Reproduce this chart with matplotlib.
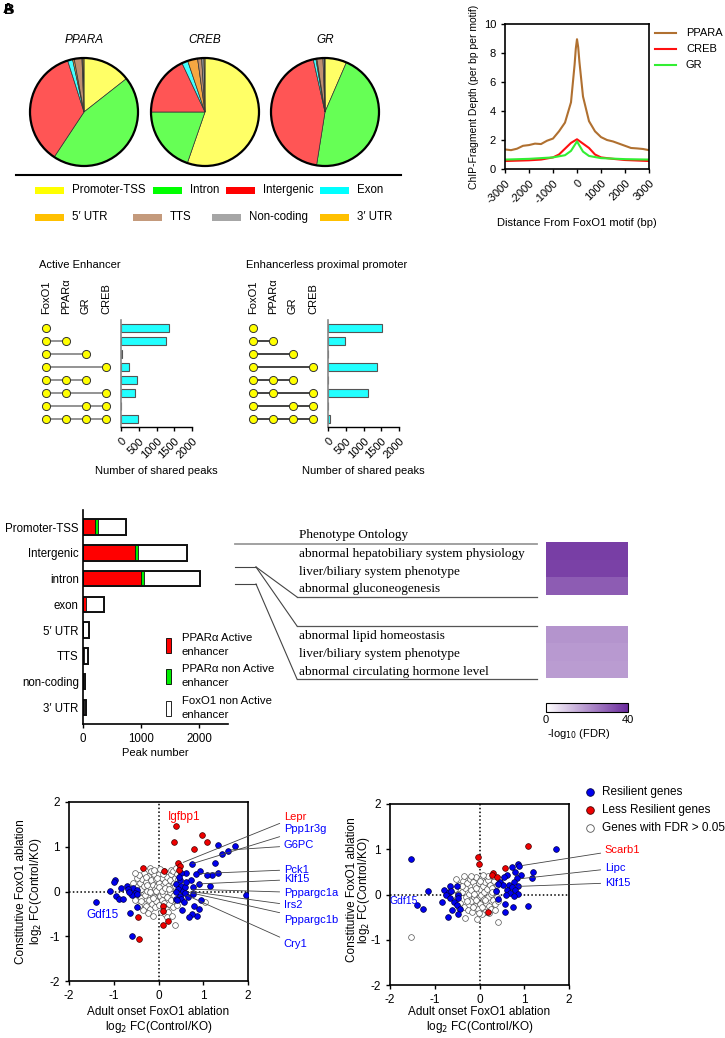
import numpy as np
import matplotlib
matplotlib.use('Agg')
import matplotlib.pyplot as plt
from matplotlib.patches import Rectangle, Circle
from matplotlib.colors import LinearSegmentedColormap

plt.rcParams['font.family'] = ['Liberation Sans', 'DejaVu Sans']
plt.rcParams['font.size'] = 8
plt.rcParams['axes.linewidth'] = 1.2
plt.rcParams['axes.unicode_minus'] = False

# ---------------- data ----------------
pie_names = ['PPARA', 'CREB', 'GR']
pie_cats = ['Promoter-TSS', 'Intron', 'Intergenic', 'Exon', "5′ UTR", 'TTS', 'Non-coding', "3′ UTR"]
ppara_pie = [14.4, 44.9, 35.8, 1.5, 0.5, 2.3, 0.3, 0.3]
creb_pie = [55.3, 19.7, 18.0, 1.8, 3.0, 1.2, 0.7, 0.3]
gr_pie = [6.5, 46.0, 44.0, 0.8, 0.3, 1.8, 0.4, 0.2]

dist_ppara = [-3000, -2750, -2500, -2250, -2000, -1750, -1500, -1250, -1000, -750, -500, -250, -100, -50, 0,
              50, 100, 250, 500, 750, 1000, 1250, 1500, 1750, 2000, 2250, 2500, 2750, 3000]
depth_ppara = [1.35, 1.3, 1.4, 1.6, 1.65, 1.75, 1.72, 1.95, 2.1, 2.6, 3.2, 4.6, 7.2, 8.3, 8.95,
               8.4, 7.4, 5.0, 3.3, 2.6, 2.2, 2.0, 1.9, 1.75, 1.6, 1.45, 1.42, 1.38, 1.3]
dist_creb = [-3000, -2000, -1500, -1000, -750, -500, -250, 0, 250, 500, 750, 1000, 1500, 2000, 3000]
depth_creb = [0.55, 0.6, 0.65, 0.8, 1.0, 1.4, 1.8, 2.05, 1.75, 1.45, 1.0, 0.8, 0.7, 0.62, 0.55]
dist_gr = [-3000, -2000, -1000, -500, -250, 0, 250, 500, 1000, 2000, 3000]
depth_gr = [0.65, 0.7, 0.8, 0.95, 1.25, 1.9, 1.2, 0.9, 0.75, 0.68, 0.65]

upset_sets = ['FoxO1', 'PPARα', 'GR', 'CREB']
upset_combos = [[0], [0, 1], [0, 2], [0, 3], [0, 1, 2], [0, 1, 3], [0, 2, 3], [0, 1, 2, 3]]
active_counts = [1360, 1260, 30, 215, 445, 390, 0, 465]
promoter_counts = [1525, 465, 0, 1385, 10, 1115, 0, 45]

region_cats = ['Promoter-TSS', 'Intergenic', 'intron', 'exon', "5′ UTR", 'TTS', 'non-coding', "3′ UTR"]
ppara_active = [200, 900, 1000, 50, 0, 15, 5, 15]
ppara_nonactive = [60, 40, 55, 0, 0, 0, 0, 0]
foxo1_nonactive = [480, 845, 962, 316, 110, 72, 25, 37]

onto_terms_1 = ['abnormal hepatobiliary system physiology', 'liver/biliary system phenotype',
                'abnormal gluconeogenesis']
onto_terms_2 = ['abnormal lipid homeostasis', 'liver/biliary system phenotype',
                'abnormal circulating hormone level']
onto_fdr_1 = [36, 35.5, 30.5]
onto_fdr_2 = [20, 19, 18.5]

# scatter (adult onset, constitutive)
left_blue = [(1.71, 1.01), (1.55, 0.90), (1.43, 0.83), (1.32, 1.05), (1.26, 0.64), (1.34, 0.41), (1.20, 0.36),
             (1.09, 0.36), (0.92, 0.45), (0.83, 0.39), (0.74, 0.62), (0.62, 0.42), (0.51, 0.41), (0.72, 0.26),
             (0.90, 0.17), (0.76, 0.11), (1.15, 0.12), (1.95, -0.07), (0.48, 0.25), (0.40, 0.17), (0.51, 0.13),
             (0.44, 0.06), (0.55, 0.02), (0.39, -0.01), (0.48, -0.09), (0.59, -0.04), (0.66, -0.13),
             (0.51, -0.16), (0.40, -0.16), (0.57, -0.24), (0.77, -0.05), (0.95, -0.19), (0.80, -0.33),
             (0.90, -0.39), (0.85, -0.54), (0.74, -0.51), (0.69, -0.57), (0.52, -0.42), (0.42, -0.20),
             (-0.97, 0.26), (-1.00, 0.22), (-1.08, 0.01), (-0.96, -0.11), (-0.83, 0.07), (-0.70, 0.13),
             (-0.57, 0.07), (-0.48, 0.04), (-0.53, -0.04), (-0.60, -0.08), (-0.47, -0.06), (-0.88, -0.16),
             (-0.80, -0.16), (-0.68, 0.06), (-0.65, 0.0), (-0.48, -0.35), (-0.64, -0.48), (-1.40, -0.24),
             (-0.60, -0.99), (0.60, 0.10), (0.46, 0.32), (0.62, 0.22)]
left_red = [(0.39, 1.47), (0.35, 1.10), (0.97, 1.27), (1.09, 1.10), (0.80, 0.95), (0.43, 0.63), (0.48, 0.56),
            (0.45, 0.48), (-0.35, 0.53), (0.13, 0.45), (0.10, -0.33), (0.10, -0.44), (0.22, -0.65),
            (0.09, -0.75), (-0.45, -0.57), (-0.43, -1.06)]
left_white = [(-0.55, 0.02), (-0.50, 0.10), (-0.46, -0.05), (-0.42, 0.18), (-0.40, -0.15), (-0.38, 0.05),
              (-0.36, 0.28), (-0.34, -0.25), (-0.32, 0.12), (-0.30, -0.08), (-0.28, 0.22), (-0.27, -0.32),
              (-0.25, 0.02), (-0.24, 0.35), (-0.22, -0.18), (-0.20, 0.10), (-0.19, -0.40), (-0.18, 0.53),
              (-0.17, 0.25), (-0.15, -0.05), (-0.14, -0.28), (-0.12, 0.15), (-0.11, 0.40), (-0.10, -0.12),
              (-0.08, 0.05), (-0.07, -0.35), (-0.06, 0.28), (-0.05, -0.22), (-0.04, 0.12), (-0.02, -0.02),
              (0.00, 0.20), (0.01, -0.30), (0.02, 0.38), (0.03, -0.10), (0.05, 0.08), (0.06, -0.45),
              (0.07, 0.30), (0.08, -0.18), (0.10, 0.15), (0.11, -0.05), (0.12, 0.45), (0.13, -0.25),
              (0.15, 0.22), (0.16, -0.38), (0.17, 0.02), (0.19, 0.33), (0.20, -0.12), (0.22, 0.12),
              (0.23, -0.28), (0.25, 0.25), (0.26, -0.02), (0.28, 0.40), (0.29, -0.20), (0.31, 0.08),
              (0.32, -0.35), (0.34, 0.18), (0.35, -0.08), (0.37, 0.30), (0.38, -0.22), (0.40, 0.05),
              (0.42, -0.30), (0.44, 0.28), (-0.58, 0.18), (-0.52, -0.20), (-0.48, 0.30), (-0.44, -0.32),
              (-0.33, 0.42), (-0.29, 0.32), (-0.23, -0.48), (-0.16, 0.45), (-0.09, 0.48), (-0.03, 0.30),
              (0.04, 0.50), (0.09, 0.40), (0.14, -0.50), (0.21, -0.45), (0.27, 0.48), (0.33, 0.45),
              (0.39, 0.52), (0.41, 0.38), (-0.43, 0.36), (-0.62, -0.05), (-0.35, -0.42), (-0.13, -0.55),
              (0.18, -0.58), (0.37, -0.74), (1.04, -0.24), (-0.52, 0.42), (0.30, -0.55), (-0.05, 0.02),
              (0.02, 0.10), (-0.12, -0.15), (0.08, 0.02), (0.14, 0.08), (-0.18, -0.02), (0.24, 0.05),
              (-0.26, 0.15), (0.36, 0.12), (-0.38, -0.22), (0.45, -0.12)]

right_blue = [(1.71, 1.01), (-1.52, 0.78), (0.85, 0.68), (0.88, 0.62), (0.73, 0.60), (0.80, 0.49), (1.19, 0.49),
              (0.92, 0.44), (1.17, 0.36), (0.61, 0.42), (0.54, 0.38), (0.83, 0.37), (0.46, 0.27), (0.52, 0.22),
              (0.42, 0.24), (0.76, 0.27), (0.65, 0.20), (0.72, 0.16), (0.87, 0.18), (0.37, 0.07), (0.61, 0.10),
              (0.80, 0.09), (0.68, 0.03), (0.87, 0.01), (0.76, -0.04), (0.59, -0.02), (0.42, -0.10),
              (0.57, -0.22), (0.74, -0.27), (1.08, -0.26), (0.57, -0.39), (-1.14, 0.07), (-1.40, -0.23),
              (-1.27, -0.33), (-0.79, 0.10), (-0.67, 0.18), (-0.51, 0.18), (-0.69, 0.05), (-0.74, -0.02),
              (-0.64, 0.07), (-0.66, -0.07), (-0.47, -0.01), (-0.49, -0.08), (-0.83, -0.17), (-0.58, -0.17),
              (-0.51, -0.24), (-0.43, -0.32), (-0.48, -0.43), (-0.62, -0.35), (-0.71, -0.50)]
right_red = [(1.09, 1.08), (-0.03, 0.83), (-0.01, 0.68), (0.56, 0.58), (0.31, 0.48), (0.27, 0.42),
             (0.39, 0.38), (0.19, -0.39)]
right_white = [(-0.60, 0.00), (-0.55, 0.12), (-0.50, -0.08), (-0.46, 0.22), (-0.43, -0.18), (-0.40, 0.05),
               (-0.37, 0.30), (-0.35, -0.28), (-0.32, 0.15), (-0.30, -0.05), (-0.28, 0.25), (-0.26, -0.35),
               (-0.24, 0.02), (-0.22, 0.35), (-0.20, -0.15), (-0.18, 0.10), (-0.16, -0.38), (-0.15, 0.28),
               (-0.13, -0.05), (-0.11, -0.25), (-0.10, 0.18), (-0.08, 0.38), (-0.07, -0.12), (-0.05, 0.05),
               (-0.04, -0.32), (-0.02, 0.25), (0.00, -0.20), (0.01, 0.12), (0.03, -0.02), (0.04, 0.35),
               (0.06, -0.28), (0.07, 0.18), (0.09, -0.10), (0.10, 0.05), (0.12, -0.38), (0.13, 0.28),
               (0.15, -0.18), (0.16, 0.12), (0.18, -0.05), (0.20, 0.32), (0.21, -0.25), (0.23, 0.20),
               (0.25, 0.02), (0.26, -0.32), (0.28, 0.15), (0.30, -0.12), (0.32, 0.30), (0.34, -0.22),
               (0.36, 0.08), (0.38, -0.05), (0.40, 0.22), (0.42, -0.15), (0.44, 0.35), (-0.53, 0.35),
               (-0.32, -0.53), (-0.06, -0.55), (0.41, -0.61), (-1.52, -0.94), (-0.45, -0.30), (-0.20, 0.40),
               (0.05, -0.42), (0.30, 0.40), (-0.12, 0.02), (0.18, 0.40), (-0.35, 0.40), (0.00, 0.30),
               (0.22, -0.40), (-0.27, -0.15), (0.08, 0.42), (-0.02, -0.40), (0.35, -0.35), (-0.48, 0.02),
               (0.12, -0.12), (-0.08, 0.15), (0.27, 0.05), (-0.15, -0.28), (-0.38, 0.18)]

left_labels = [('Lepr', 'red', 1.66, (0.55, 0.65)), ('Ppp1r3g', 'blue', 1.40, (0.75, 0.62)),
               ('G6PC', 'blue', 1.03, (1.62, 0.93)), ('Pck1', 'blue', 0.49, (0.92, 0.40)),
               ('Klf15', 'blue', 0.27, (0.90, 0.17)), ('Pppargc1a', 'blue', -0.03, (0.75, 0.05)),
               ('Irs2', 'blue', -0.31, (0.72, 0.00)), ('Pppargc1b', 'blue', -0.63, (0.68, -0.02)),
               ('Cry1', 'blue', -1.18, (0.62, -0.08))]
right_labels = [('Scarb1', 'red', 0.99, (0.95, 0.64)), ('Lipc', 'blue', 0.58, (0.92, 0.35)),
                ('Klf15', 'blue', 0.26, (0.88, 0.18))]

# ---------------- figure ----------------
W, H = 725, 1038
fig = plt.figure(figsize=(W / 100, H / 100), dpi=100)


def px_axes(x0, y0, x1, y1):
    a = fig.add_axes([x0 / W, 1 - y1 / H, (x1 - x0) / W, (y1 - y0) / H])
    a.patch.set_visible(False)
    return a


ov = fig.add_axes([0, 0, 1, 1])
ov.set_xlim(0, W)
ov.set_ylim(H, 0)
ov.axis('off')
ov.set_zorder(10)

# panel letters (overlapping in the original)
ov.text(3, 2, 'A', fontsize=10.5, fontweight='bold', va='top')
ov.text(4, 3, 'B', fontsize=10.5, fontweight='bold', va='top')

# ---- A: pies ----
pie_fill = ['#FFFF66', '#66FF55', '#FF5555', '#44FFFF', '#F5A742', '#C09070', '#999999', '#FFC000']
for name, vals, cx in zip(pie_names, [ppara_pie, creb_pie, gr_pie], [84, 205, 325]):
    ax = px_axes(cx - 56, 112 - 56, cx + 56, 112 + 56)
    ax.pie(vals, colors=pie_fill, startangle=90, counterclock=False,
           wedgeprops=dict(edgecolor='#333333', linewidth=0.5))
    ax.add_patch(Circle((0, 0), 1, fill=False, lw=1.6, ec='black'))
    ax.set_xlim(-56 / 54, 56 / 54)
    ax.set_ylim(-56 / 54, 56 / 54)
    ov.text(cx, 40, name, ha='center', va='center', style='italic', fontsize=8.5)

ov.plot([16, 401], [175, 175], color='black', lw=1.5)
leg_cols = ['#FFFF00', '#00FF00', '#FF0000', '#00FFFF', '#FFC000', '#C49A7C', '#A6A6A6', '#FFC000']
leg_pos = [(35, 190), (153, 190), (226, 190), (320, 190), (35, 217), (133, 217), (212, 217), (320, 217)]
for lab, col, (lx, ly) in zip(pie_cats, leg_cols, leg_pos):
    ov.add_patch(Rectangle((lx, ly - 3.5), 29, 7, color=col, lw=0))
    ov.text(lx + 37, ly, lab, va='center', ha='left', fontsize=8.3)

# ---- B: profile ----
ax = px_axes(505, 24, 649, 169)
ax.plot(dist_ppara, depth_ppara, color='#B07030', lw=1.5)
ax.plot(dist_creb, depth_creb, color='#FF1010', lw=1.5)
ax.plot(dist_gr, depth_gr, color='#33EE33', lw=1.5)
ax.set_xlim(-3000, 3000)
ax.set_ylim(0, 10)
ax.set_xticks(range(-3000, 3001, 1000))
ax.set_yticks(range(0, 11, 2))
ax.tick_params(axis='x', labelrotation=45, length=3, width=1, labelsize=8)
ax.tick_params(axis='y', length=3, width=1, labelsize=8)
for t in ax.get_xticklabels():
    t.set_ha('right')
    t.set_rotation_mode('anchor')
ax.set_ylabel('ChIP-Fragment Depth (per bp per motif)', fontsize=7.5, labelpad=3)
ov.text(577, 223, 'Distance From FoxO1 motif (bp)', ha='center', va='center', fontsize=8)
for lab, col, ly in [('PPARA', '#B07030', 33), ('CREB', '#FF1010', 49), ('GR', '#33EE33', 65)]:
    ov.plot([655, 676], [ly, ly], color=col, lw=1.5)
    ov.text(686, ly, lab, va='center', fontsize=8)

# ---- C: upset plots ----
for title, tx, cols_x, bar_x, counts, lcol in [
        ('Active Enhancer', 39, 46, (121, 192), active_counts, '#808080'),
        ('Enhancerless proximal promoter', 246, 253, (328, 399), promoter_counts, '#222222')]:
    ov.text(tx, 265, title, ha='left', va='center', fontsize=8)
    for i, s in enumerate(upset_sets):
        ov.text(cols_x + 20 * i, 314, s, rotation=90, ha='center', va='bottom', fontsize=8)
    dax = px_axes(cols_x - 10, 320, cols_x + 70, 427)
    dax.set_xlim(-0.5, 3.5)
    dax.set_ylim(7.615, -0.615)
    dax.axis('off')
    for r, combo in enumerate(upset_combos):
        dax.plot(combo, [r] * len(combo), '-', color=lcol, lw=1.2, zorder=1)
        dax.scatter(combo, [r] * len(combo), s=34, c='#FFFF00', edgecolors='#333333', linewidths=0.7, zorder=3)
    bax = px_axes(bar_x[0], 320, bar_x[1], 427)
    bax.barh(range(len(counts)), counts, height=0.55, color='#22FFFF', edgecolor='#555555', lw=0.8)
    bax.set_ylim(7.615, -0.615)
    bax.set_xlim(0, 2000)
    bax.set_xticks([0, 500, 1000, 1500, 2000])
    bax.set_yticks([])
    for sp in ['top', 'right']:
        bax.spines[sp].set_visible(False)
    bax.spines['left'].set_color('#888888')
    bax.spines['bottom'].set_linewidth(1.0)
    bax.tick_params(axis='x', length=3, width=1, labelsize=8)
    for t in bax.get_xticklabels():
        t.set_rotation(45)
        t.set_ha('right')
        t.set_rotation_mode('anchor')
    bax.set_xlabel('Number of shared peaks', fontsize=8, labelpad=4)

# ---- D: stacked bars ----
ax = px_axes(83, 510, 228, 724)
ypos = np.arange(len(region_cats))
left2 = np.array(ppara_active) + np.array(ppara_nonactive)
totals = left2 + np.array(foxo1_nonactive)
ax.barh(ypos, ppara_active, height=0.6, color='#FF0000', edgecolor='black', lw=0.5)
ax.barh(ypos, ppara_nonactive, left=ppara_active, height=0.6, color='#00EE00', edgecolor='black', lw=0.5)
ax.barh(ypos, foxo1_nonactive, left=left2, height=0.6, color='white', edgecolor='black', lw=0.5)
ax.barh(ypos, totals, height=0.6, fill=False, edgecolor='#111111', lw=1.4)
ax.set_ylim(7.64, -0.66)
ax.set_xlim(0, 2500)
ax.set_xticks([0, 1000, 2000])
ax.set_yticks(ypos)
ax.set_yticklabels(region_cats, fontsize=8.3)
ax.tick_params(axis='y', length=0, pad=3)
ax.tick_params(axis='x', length=3, width=1, labelsize=8.3)
for sp in ['top', 'right']:
    ax.spines[sp].set_visible(False)
ax.set_xlabel('Peak number', fontsize=8, labelpad=2)

for col, txt, ly in [('#FF0000', 'PPARα Active\nenhancer', 645),
                     ('#00EE00', 'PPARα non Active\nenhancer', 676),
                     ('white', 'FoxO1 non Active\nenhancer', 708)]:
    ov.add_patch(Rectangle((166, ly - 7.5), 5, 15, facecolor=col, edgecolor='black', lw=0.6))
    ov.text(182, ly, txt, va='center', ha='left', fontsize=8.2, linespacing=1.4)

# ---- ontology heatmap ----
serif = ['Liberation Serif', 'DejaVu Serif']
lc = '#444444'
ov.plot([235, 537], [544, 544], color='#9A9A9A', lw=1.3)
for yy in [597, 626, 679]:
    ov.plot([297, 537], [yy, yy], color='#555555', lw=0.9)
ov.plot([235, 256], [567, 567], color=lc, lw=0.8)
ov.plot([256, 297], [567, 597], color=lc, lw=0.8)
ov.plot([256, 297], [567, 626], color=lc, lw=0.8)
ov.plot([235, 256], [584, 584], color=lc, lw=0.8)
ov.plot([256, 297], [584, 679], color=lc, lw=0.8)
ov.text(299, 535, 'Phenotype Ontology', family=serif, fontsize=9.5, va='center')
for term, yy in zip(onto_terms_1, [554, 572, 589]):
    ov.text(299, yy, term, family=serif, fontsize=9.5, va='center')
for term, yy in zip(onto_terms_2, [636, 654, 672]):
    ov.text(299, yy, term, family=serif, fontsize=9.5, va='center')

cmap = LinearSegmentedColormap.from_list('pur', ['#FFFFFF', '#6A2A9C'])
hax1 = px_axes(546, 542, 628, 595)
im = hax1.imshow(np.array(onto_fdr_1).reshape(-1, 1), cmap=cmap, vmin=0, vmax=40, aspect='auto')
hax1.axis('off')
hax2 = px_axes(546, 626, 628, 678)
hax2.imshow(np.array(onto_fdr_2).reshape(-1, 1), cmap=cmap, vmin=0, vmax=40, aspect='auto')
hax2.axis('off')
cax = px_axes(546, 703, 628, 712)
cb = fig.colorbar(im, cax=cax, orientation='horizontal', ticks=[0, 40])
cb.outline.set_linewidth(0.8)
cax.tick_params(length=0, labelsize=8, pad=2)
ov.text(547, 734, '-log$_{10}$ (FDR)', fontsize=8, va='center')


# ---- E: scatter plots ----
def scatter_panel(box, blue, red, white, labels, gdf_pos, xpad):
    ax = px_axes(*box)
    for pts, fc, ec in [(white, 'white', '#555555'), (blue, '#0000EE', '#000044'), (red, '#EE0000', '#440000')]:
        xs, ys = zip(*pts)
        ax.scatter(xs, ys, s=17, facecolor=fc, edgecolor=ec, linewidths=0.5, zorder=3)
    ax.axhline(0, color='black', lw=1.1, ls=(0, (1, 1.5)), zorder=1)
    ax.axvline(0, color='black', lw=1.1, ls=(0, (1, 1.5)), zorder=1)
    ax.set_xlim(-2, 2)
    ax.set_ylim(-2, 2)
    ax.set_xticks([-2, -1, 0, 1, 2])
    ax.set_yticks([-2, -1, 0, 1, 2])
    ax.tick_params(length=3, width=1, labelsize=8.5)
    ax.set_xlabel('Adult onset FoxO1 ablation\nlog$_2$ FC(Control/KO)', fontsize=8.5, linespacing=1.05,
                  labelpad=xpad)
    for name, col, ty, xy in labels:
        ax.annotate(name, xy=xy, xytext=(2.80, ty), color=col, fontsize=8, ha='left', va='center',
                    annotation_clip=False,
                    arrowprops=dict(arrowstyle='-', color='#444444', lw=0.6, shrinkA=1, shrinkB=0))
    ax.text(gdf_pos[0], gdf_pos[1], 'Gdf15', color='blue', fontsize=gdf_pos[2], ha='left', va='center')
    return ax


ax = scatter_panel((69, 802, 248, 981), left_blue, left_red, left_white, left_labels, (-1.62, -0.53, 8.5), 3)
ax.set_ylabel('Constitutive FoxO1 ablation\nlog$_2$ FC(Control/KO)', fontsize=8.5, linespacing=1.05)
ax.text(0.57, 1.66, 'Igfbp1', color='red', fontsize=8.5, ha='center', va='center')

ax = scatter_panel((390, 804, 569, 985), right_blue, right_red, right_white, right_labels, (-2.0, -0.14, 7.5), 0)
ov.text(352, 890, 'Constitutive FoxO1 ablation', rotation=90, ha='center', va='center', fontsize=8.5)
ov.text(364, 890, 'log$_2$ FC(Control/KO)', rotation=90, ha='center', va='center', fontsize=8.5)

for fc, ec, txt, ly in [('#0000EE', '#000044', 'Resilient genes', 792),
                        ('#EE0000', '#440000', 'Less Resilient genes', 810),
                        ('white', '#555555', 'Genes with FDR > 0.05', 828)]:
    ov.scatter([590], [ly], s=30, facecolor=fc, edgecolor=ec, linewidths=0.6)
    ov.text(602, ly, txt, va='center', fontsize=8.5)

fig.savefig('out.png', dpi=100)
